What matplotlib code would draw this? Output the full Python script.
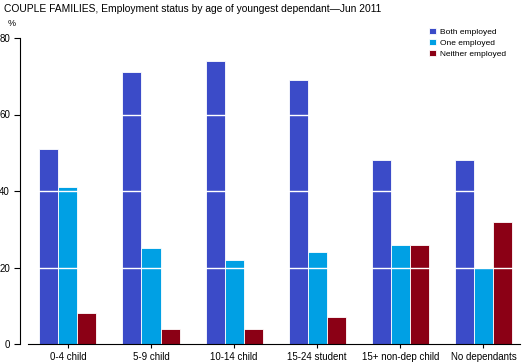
import numpy as np
from matplotlib import pyplot as plt

plt.rcParams['font.family'] = ['Liberation Sans', 'DejaVu Sans']

categories = ['0-4 child', '5-9 child', '10-14 child', '15-24 student',
              '15+ non-dep child', 'No dependants']
both_employed = [51, 71, 74, 69, 48, 48]
one_employed = [41, 25, 22, 24, 26, 20]
neither_employed = [8, 4, 4, 7, 26, 32]

series = [('Both employed', both_employed, '#3b4bc8'),
          ('One employed', one_employed, '#00a0e4'),
          ('Neither employed', neither_employed, '#8b0015')]

fig = plt.figure(figsize=(5.29, 3.63), dpi=100)
ax = fig.add_axes([28 / 529, 19 / 363, 492 / 529, 306 / 363])

x = np.arange(len(categories))
w = 0.229
for i, (name, vals, col) in enumerate(series):
    ax.bar(x + (i - 1) * w, vals, w, color=col, edgecolor='white',
           linewidth=0.6, label=name, zorder=2)

# white gridlines drawn over the bars
for yv in [20, 40, 60]:
    ax.axhline(yv, color='white', linewidth=1, zorder=3)

ax.set_xlim(-0.48, 5.44)
ax.set_ylim(0, 80)
ax.set_yticks([0, 20, 40, 60, 80])
ax.set_xticks(x)
ax.set_xticklabels(categories)
ax.tick_params(axis='both', labelsize=7, length=4, width=0.8, pad=3)
ax.tick_params(axis='x', length=3)

ax.spines['top'].set_visible(False)
ax.spines['right'].set_visible(False)
ax.spines['left'].set_position(('outward', 6))
ax.spines['left'].set_linewidth(0.8)
ax.spines['bottom'].set_linewidth(0.8)

fig.text(4 / 529, 1 - 9 / 363, 'COUPLE FAMILIES, Employment status by age of youngest dependant\u2014Jun 2011',
         fontsize=7.4, va='center', ha='left')
fig.text(12 / 529, 1 - 24 / 363, '%', fontsize=6.5, va='center', ha='center')

ax.legend(loc='upper left', bbox_to_anchor=(429 / 529, 1 - 28 / 363),
          bbox_transform=fig.transFigure, frameon=False, fontsize=6,
          handlelength=0.8, handleheight=0.8, handletextpad=0.5,
          labelspacing=0.35, borderaxespad=0, borderpad=0)

fig.savefig('out.png', dpi=100)
